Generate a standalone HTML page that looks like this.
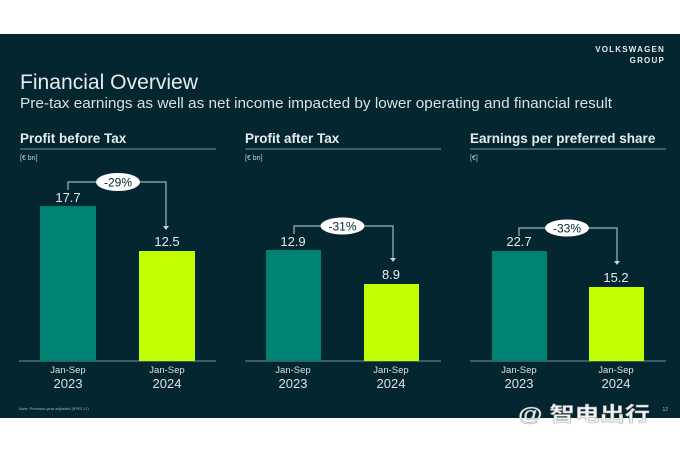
<!DOCTYPE html>
<html><head><style>
body{margin:0;width:680px;height:453px;background:#fff;overflow:hidden;font-family:"Liberation Sans",sans-serif}
</style></head><body>
<svg width="680" height="453" viewBox="0 0 680 453" xmlns="http://www.w3.org/2000/svg" font-family="Liberation Sans, sans-serif">
<rect x="0" y="34" width="680" height="384" fill="#032631"/>
<text x="665" y="52" fill="#e6ecee" font-size="8" font-weight="bold" text-anchor="end" letter-spacing="1.2">VOLKSWAGEN</text>
<text x="665" y="63" fill="#e6ecee" font-size="8" font-weight="bold" text-anchor="end" letter-spacing="1.2">GROUP</text>
<text x="20" y="89" fill="#e6ecee" font-size="21" textLength="178" lengthAdjust="spacingAndGlyphs">Financial Overview</text>
<text x="20" y="108" fill="#d8e0e3" font-size="14.5" textLength="592" lengthAdjust="spacingAndGlyphs">Pre-tax earnings as well as net income impacted by lower operating and financial result</text>
<g fill="#e6ecee" font-size="13.5" font-weight="bold">
<text x="20" y="143">Profit before Tax</text>
<text x="245" y="143">Profit after Tax</text>
<text x="470" y="143">Earnings per preferred share</text>
</g>
<g stroke="#5c7d86" stroke-width="1.2">
<line x1="20" y1="149" x2="216" y2="149"/><line x1="245" y1="149" x2="441" y2="149"/><line x1="470" y1="149" x2="666" y2="149"/>
<line x1="19" y1="361" x2="216" y2="361"/><line x1="245" y1="361" x2="441" y2="361"/><line x1="470" y1="361" x2="666" y2="361"/>
</g>
<g fill="#c8d2d5" font-size="7">
<text x="20" y="160">[€ bn]</text><text x="245" y="160">[€ bn]</text><text x="470" y="160">[€]</text>
</g>
<rect x="40" y="206" width="56" height="155" fill="#008272"/>
<rect x="139" y="251" width="56" height="110" fill="#c2ff00"/>
<rect x="266" y="250" width="55" height="111" fill="#008272"/>
<rect x="364" y="284" width="55" height="77" fill="#c2ff00"/>
<rect x="492" y="251" width="55" height="110" fill="#008272"/>
<rect x="589" y="287" width="55" height="74" fill="#c2ff00"/>
<g fill="#e6ecee" font-size="13" text-anchor="middle">
<text x="68" y="202">17.7</text><text x="167" y="246">12.5</text>
<text x="293" y="246">12.9</text><text x="391" y="279">8.9</text>
<text x="519" y="246">22.7</text><text x="616" y="282">15.2</text>
</g>
<g fill="#d8e0e3" text-anchor="middle">
<g font-size="9.5"><text x="68" y="373">Jan-Sep</text><text x="167" y="373">Jan-Sep</text><text x="293" y="373">Jan-Sep</text><text x="391" y="373">Jan-Sep</text><text x="519" y="373">Jan-Sep</text><text x="616" y="373">Jan-Sep</text></g>
<g font-size="13"><text x="68" y="388">2023</text><text x="167" y="388">2024</text><text x="293" y="388">2023</text><text x="391" y="388">2024</text><text x="519" y="388">2023</text><text x="616" y="388">2024</text></g>
</g>
<g stroke="#c8d2d5" stroke-width="1" fill="none">
<path d="M68 190V182H166V227"/><path d="M294 234V226H393V259"/><path d="M519 236V228H617V262"/>
</g>
<g fill="#c8d2d5">
<path d="M163 226h6l-3 4z"/><path d="M390 258h6l-3 4z"/><path d="M614 261h6l-3 4z"/>
</g>
<g fill="#fff"><ellipse cx="118" cy="182" rx="22" ry="9"/><ellipse cx="342.5" cy="226" rx="22" ry="8.5"/><ellipse cx="567" cy="228" rx="22" ry="8.5"/></g>
<g fill="#032631" font-size="12" text-anchor="middle">
<text x="118" y="186.5">-29%</text><text x="342.5" y="230.5">-31%</text><text x="567" y="232.5">-33%</text>
</g>
<text x="19" y="410" fill="#a9b8bc" font-size="4">Note: Previous year adjusted (IFRS 17)</text>
<text x="668" y="411" fill="#a9b8bc" font-size="5" text-anchor="end">12</text>
<text x="518" y="421" fill="#f2f2f2" font-size="20" font-family="Liberation Sans, Noto Sans CJK SC, sans-serif" font-weight="bold" stroke="#999" stroke-width="0.4" textLength="132" lengthAdjust="spacingAndGlyphs">@ 智电出行</text>
</svg>
</body></html>
